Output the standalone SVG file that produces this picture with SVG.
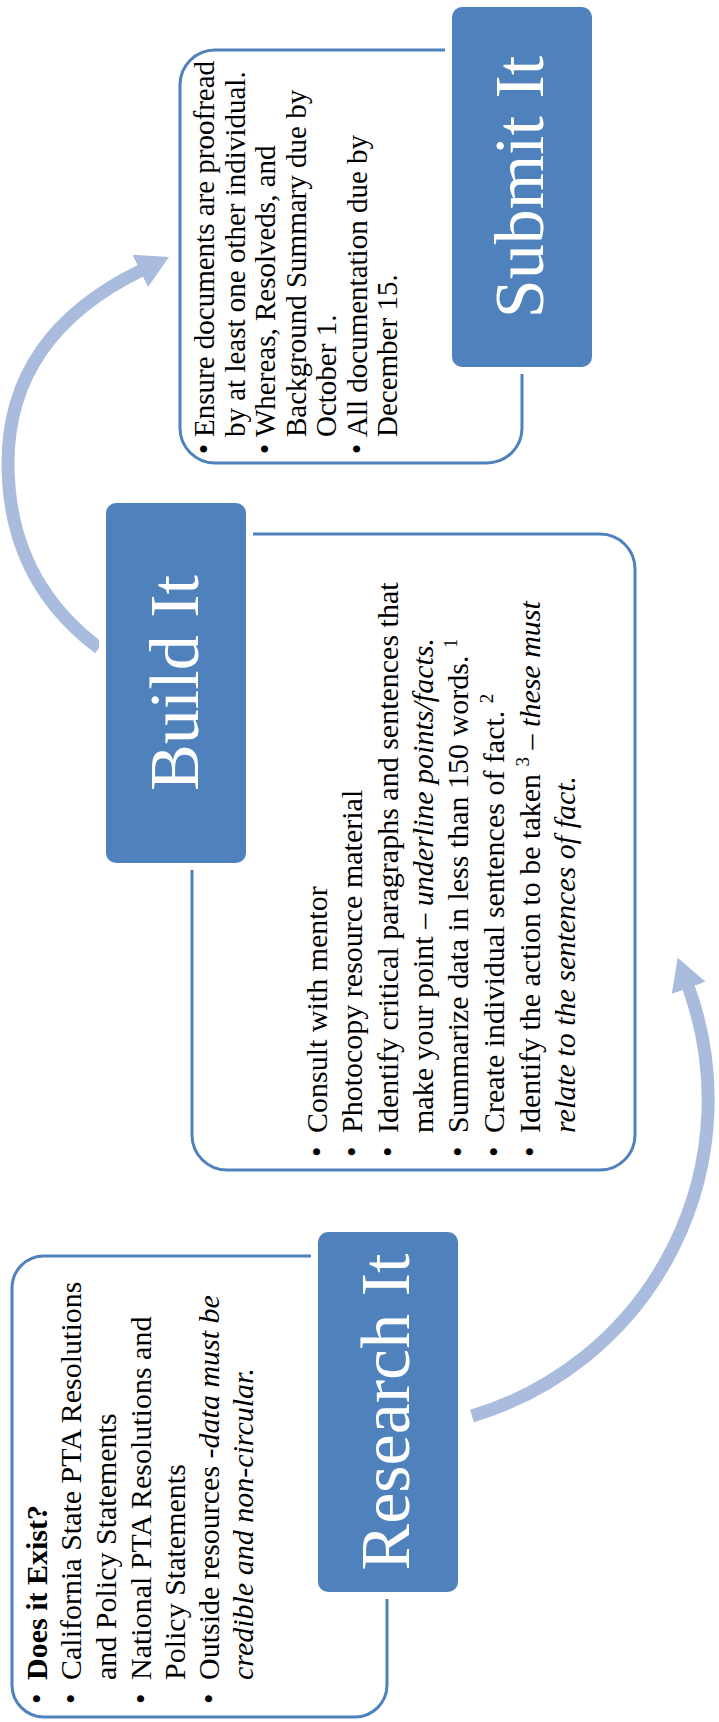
<svg xmlns="http://www.w3.org/2000/svg" width="719" height="1722" viewBox="0 0 719 1722">
<style>
.bg{fill:#ffffff}
.tbox{fill:#ffffff;stroke:#4f81bd;stroke-width:3}
.halo{fill:#ffffff}
.blue{fill:#4f81bd}
.title{font-family:"Liberation Serif","Times New Roman",serif;font-size:70px;fill:#ffffff;text-anchor:middle}
.t{font-family:"Liberation Serif","Times New Roman",serif;font-size:30px;fill:#000000}
.ts{font-family:"Liberation Serif","Times New Roman",serif;font-size:29px;fill:#000000}
.i{font-style:italic}
.b{font-weight:bold}
.arc{fill:none;stroke:#a9bcde;stroke-width:13}
</style>
<defs>
<marker id="ah" markerUnits="userSpaceOnUse" markerWidth="40" markerHeight="40" refX="2" refY="20" orient="auto">
<path d="M0,2 L32,20 L0,38 Z" fill="#a9bcde"/>
</marker>
</defs>
<rect class="bg" x="0" y="0" width="719" height="1722"/>

<g id="connectors">
<path class="arc" d="M472,1416 A330,330 0 0 0 688,986" marker-end="url(#ah)"/>
<path class="arc" d="M99,648 Q8,580 8,463 Q8,335 142,270" marker-end="url(#ah)"/>
</g>

<g id="submit-text">
<rect class="tbox" x="180" y="50" width="342" height="413" rx="35"/>
<text class="ts" transform="translate(214,454) rotate(-90)">•</text>
<text class="ts" transform="translate(214,437) rotate(-90)">Ensure documents are proofread</text>
<text class="ts" transform="translate(245,437) rotate(-90)">by at least one other individual.</text>
<text class="ts" transform="translate(275,454) rotate(-90)">•</text>
<text class="ts" transform="translate(275,437) rotate(-90)">Whereas, Resolveds, and</text>
<text class="ts" transform="translate(306,437) rotate(-90)">Background Summary due by</text>
<text class="ts" transform="translate(336,437) rotate(-90)">October 1.</text>
<text class="ts" transform="translate(367,454) rotate(-90)">•</text>
<text class="ts" transform="translate(367,437) rotate(-90)">All documentation due by</text>
<text class="ts" transform="translate(397,437) rotate(-90)">December 15.</text>
</g>

<g id="build-text">
<rect class="tbox" x="192" y="534" width="443" height="636" rx="35"/>
<text class="t" transform="translate(327,1157) rotate(-90)">•</text>
<text class="t" transform="translate(327,1133) rotate(-90)">Consult with mentor</text>
<text class="t" transform="translate(362,1157) rotate(-90)">•</text>
<text class="t" transform="translate(362,1133) rotate(-90)">Photocopy resource material</text>
<text class="t" transform="translate(398,1157) rotate(-90)">•</text>
<text class="t" transform="translate(398,1133) rotate(-90)">Identify critical paragraphs and sentences that</text>
<text class="t" transform="translate(433,1133) rotate(-90)">make your point – <tspan class="i">underline points/facts.</tspan></text>
<text class="t" transform="translate(468,1157) rotate(-90)">•</text>
<text class="t" transform="translate(468,1133) rotate(-90)">Summarize data in less than 150 words. <tspan dy="-11" font-size="19">1</tspan></text>
<text class="t" transform="translate(504,1157) rotate(-90)">•</text>
<text class="t" transform="translate(504,1133) rotate(-90)">Create individual sentences of fact. <tspan dy="-11" font-size="19">2</tspan></text>
<text class="t" transform="translate(540,1157) rotate(-90)">•</text>
<text class="t" transform="translate(540,1133) rotate(-90)">Identify the action to be taken <tspan dy="-11" font-size="19">3</tspan><tspan dy="11"> – </tspan><tspan class="i">these must</tspan></text>
<text class="t i" transform="translate(575,1133) rotate(-90)">relate to the sentences of fact.</text>
</g>

<g id="research-text">
<rect class="tbox" x="12" y="1256" width="375" height="461" rx="32"/>
<text class="t" transform="translate(47,1704) rotate(-90)">•</text>
<text class="t b" transform="translate(47,1680) rotate(-90)">Does it Exist?</text>
<text class="t" transform="translate(81,1704) rotate(-90)">•</text>
<text class="t" transform="translate(81,1680) rotate(-90)">California State PTA Resolutions</text>
<text class="t" transform="translate(116,1680) rotate(-90)">and Policy Statements</text>
<text class="t" transform="translate(151,1704) rotate(-90)">•</text>
<text class="t" transform="translate(151,1680) rotate(-90)">National PTA Resolutions and</text>
<text class="t" transform="translate(185,1680) rotate(-90)">Policy Statements</text>
<text class="t" transform="translate(219,1704) rotate(-90)">•</text>
<text class="t" transform="translate(219,1680) rotate(-90)">Outside resources -<tspan class="i">data must be</tspan></text>
<text class="t i" transform="translate(253,1680) rotate(-90)">credible and non-circular.</text>
</g>

<g id="submit-node">
<rect class="halo" x="445" y="0" width="154" height="374" rx="14"/>
<rect class="blue" x="452" y="7" width="140" height="360" rx="10"/>
<text class="title" transform="translate(543,187) rotate(-90)">Submit It</text>
</g>

<g id="build-node">
<rect class="halo" x="99" y="496" width="154" height="374" rx="14"/>
<rect class="blue" x="106" y="503" width="140" height="360" rx="10"/>
<text class="title" transform="translate(198,683) rotate(-90)">Build It</text>
</g>

<g id="research-node">
<rect class="halo" x="311" y="1225" width="154" height="374" rx="14"/>
<rect class="blue" x="318" y="1232" width="140" height="360" rx="10"/>
<text class="title" transform="translate(409,1412) rotate(-90)">Research It</text>
</g>
</svg>
